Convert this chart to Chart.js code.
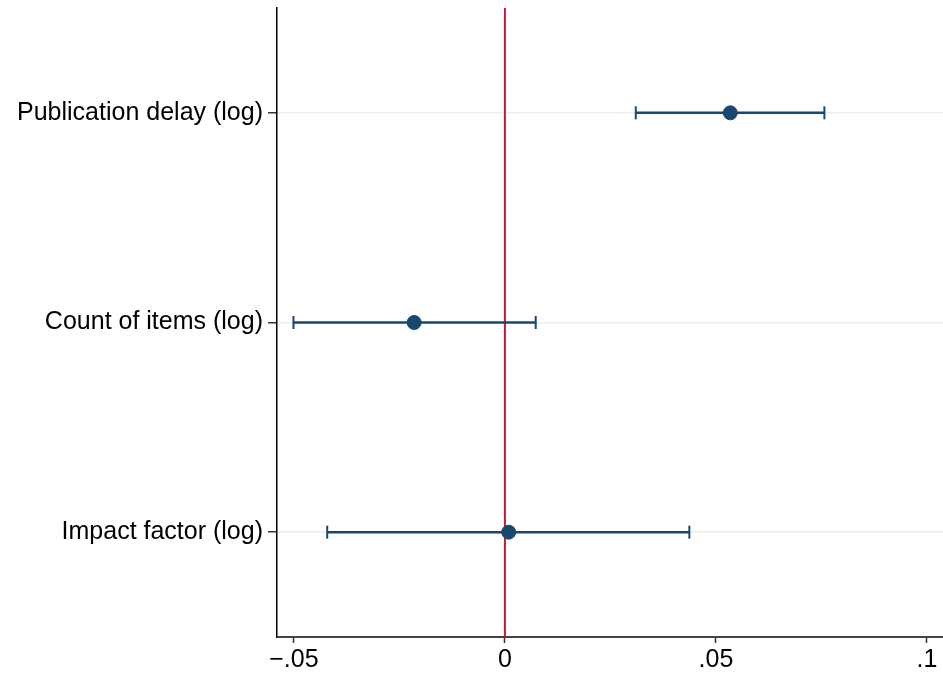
<!DOCTYPE html>
<html lang="en">
<head>
    <meta charset="UTF-8">
    <title>Coefficient plot</title>
    <script src="https://cdn.jsdelivr.net/npm/chart.js"></script>
    <style>
        body { margin: 0; background: #fff; }
    </style>
</head>
<body>
    <canvas id="coefplot" width="943" height="674"></canvas>
    <script>
        // variables, top to bottom
        const labels = ['Publication delay (log)', 'Count of items (log)', 'Impact factor (log)']
        const estimates = [0.0534, -0.0215, 0.0009]
        const lower = [0.0310, -0.0501, -0.0421]
        const upper = [0.0757, 0.0073, 0.0437]
        const xTicks = [-0.05, 0, 0.05, 0.1]

        const navy = '#1a476f'
        const red = '#c8173d'

        const datasets = []
        // reference line at zero
        datasets.push({
            type: 'line',
            data: [{ x: 0, y: 0.5 }, { x: 0, y: labels.length + 0.5 }],
            borderColor: red,
            borderWidth: 2,
            pointRadius: 0,
            order: 3
        })
        // confidence intervals with caps
        labels.forEach((name, i) => {
            datasets.push({
                type: 'line',
                data: [{ x: lower[i], y: i + 1 }, { x: upper[i], y: i + 1 }],
                borderColor: navy,
                borderWidth: 2.5,
                pointStyle: 'line',
                pointRotation: 90,
                pointRadius: 6.5,
                pointBorderWidth: 2,
                pointBorderColor: navy,
                order: 2
            })
        })
        // point estimates
        datasets.push({
            type: 'scatter',
            data: estimates.map((v, i) => ({ x: v, y: i + 1 })),
            backgroundColor: navy,
            borderColor: navy,
            pointRadius: 7,
            order: 1
        })

        const font = { family: "'Liberation Sans', Arial, Helvetica, sans-serif", size: 25 }

        new Chart(document.getElementById('coefplot'), {
            data: { datasets: datasets },
            options: {
                responsive: false,
                animation: false,
                layout: { autoPadding: false, padding: { top: 8, right: 0, left: 0, bottom: 0 } },
                plugins: { legend: { display: false }, tooltip: { enabled: false } },
                scales: {
                    x: {
                        type: 'linear',
                        min: -0.054,
                        max: 0.1038,
                        afterBuildTicks: s => { s.ticks = xTicks.map(v => ({ value: v })) },
                        afterFit: s => { s.height = 37; s.paddingLeft = 0; s.paddingRight = 0 },
                        ticks: {
                            font: font,
                            color: '#000',
                            padding: 2,
                            maxRotation: 0,
                            callback: v => v === 0 ? '0' : String(v).replace('0.', '.').replace('-.', '\u2212.')
                        },
                        grid: { color: 'rgba(0,0,0,0)', tickColor: '#333', tickLength: 6, tickWidth: 1.5 },
                        border: { display: true, color: '#444', width: 2 }
                    },
                    y: {
                        type: 'linear',
                        reverse: true,
                        min: 0.5,
                        max: labels.length + 0.5,
                        afterBuildTicks: s => { s.ticks = labels.map((l, i) => ({ value: i + 1 })) },
                        afterFit: s => { s.width = 277; s.paddingTop = 0; s.paddingBottom = 0 },
                        ticks: {
                            font: font,
                            color: '#000',
                            padding: 5,
                            callback: v => labels[v - 1]
                        },
                        grid: { color: '#e9eef2', lineWidth: 1.5, tickColor: '#333', tickLength: 9, tickWidth: 1.5 },
                        border: { display: true, color: '#000', width: 1.5 }
                    }
                }
            }
        })
    </script>
</body>
</html>
